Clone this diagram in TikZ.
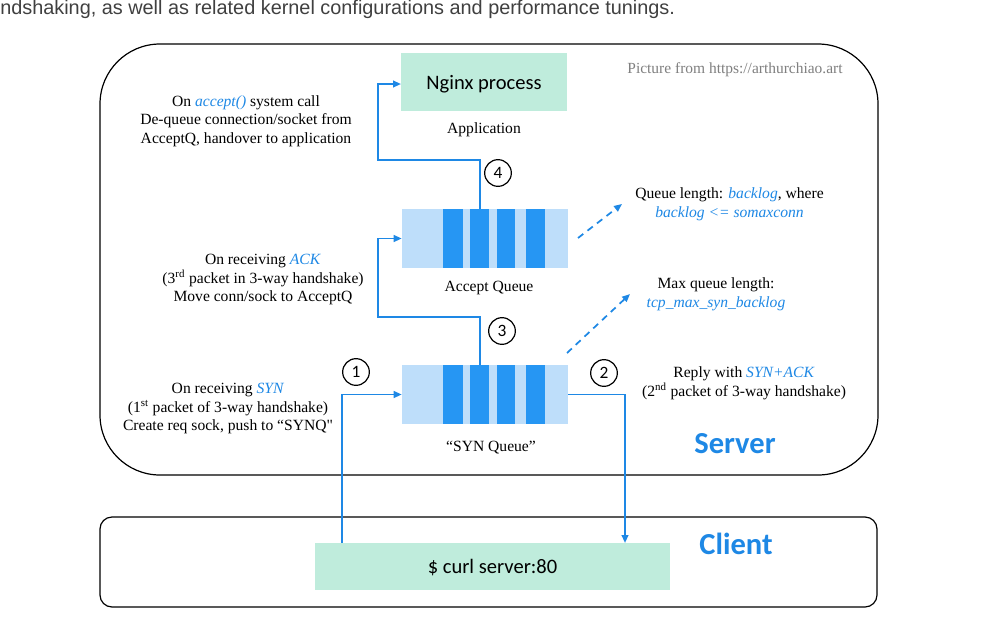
\documentclass[tikz,border=0pt]{standalone}
\usepackage{fontspec}
\setmainfont{Liberation Serif}
\newfontfamily\calfont{Carlito}
\newfontfamily\arialfont{Liberation Sans}
\usetikzlibrary{arrows.meta}
\definecolor{tblue}{RGB}{30,136,229}
\definecolor{barblue}{RGB}{38,150,243}
\definecolor{qblue}{RGB}{190,222,250}
\definecolor{mint}{RGB}{191,236,220}
\definecolor{topgrey}{RGB}{64,64,64}
\newcommand{\hl}[1]{\textcolor{tblue}{\textit{#1}}}
\begin{document}
\begin{tikzpicture}[x=0.75pt,y=-0.75pt,
  flow/.style={tblue,line width=1.4pt,-{Triangle[length=6pt,width=5pt]}},
  dflow/.style={tblue,line width=1.3pt,dash pattern=on 5pt off 4pt,-{Triangle[length=6pt,width=5pt]}},
  txt/.style={align=center,font=\fontsize{11.7}{13.9}\selectfont,inner sep=0pt},
  num/.style={circle,draw,line width=0.9pt,minimum size=20pt,inner sep=0pt,font=\calfont\fontsize{13}{13}\selectfont},
  queue/.style={fill=qblue,minimum width=124.5pt,minimum height=44.25pt,inner sep=0pt},
  appbox/.style={fill=mint,inner sep=0pt,font=\calfont\fontsize{15.4}{16}\selectfont},
  bigtitle/.style={text=tblue,inner sep=0pt,font=\calfont\bfseries\fontsize{22.9}{24}\selectfont},
  frame/.style={draw,line width=0.9pt}
]
\useasboundingbox (0,0) rectangle (998,632);
\clip (0,0) rectangle (998,632);
\fill[white] (0,0) rectangle (998,632);

% top caption
\node[anchor=base west,inner sep=0pt,text=topgrey,font=\arialfont\fontsize{14.9}{16}\selectfont] (cap) at (0,14.5)
  {ndshaking, as well as related kernel configurations and performance tunings.};

% frames
\draw[frame,rounded corners=45pt] (100,44) rectangle (878,475);
\draw[frame,rounded corners=9pt] (100,517) rectangle (877,607);

% boxes
\fill[mint] (401,53) rectangle (567,111);
\node[inner sep=0pt,font=\calfont\fontsize{15.4}{16}\selectfont] (nginx) at (484,84) {Nginx process};
\coordinate (nginxw) at (401,84);
\fill[mint] (315,543) rectangle (670,590);
\node[inner sep=0pt,font=\calfont\fontsize{15.4}{16}\selectfont] (curl) at (492.5,568) {\$ curl server:80};
\coordinate (curltopA) at (342,543);
\coordinate (curltopB) at (625,543);
\node[queue] (aq) at (485,238.5) {};
\node[queue] (sq) at (485,394.5) {};
\foreach \a/\b in {443/463,470/489,497/515,526/545}{
  \fill[barblue] (aq.north -| \a,0) rectangle (aq.south -| \b,0);
  \fill[barblue] (sq.north -| \a,0) rectangle (sq.south -| \b,0);
}

% labels
\node[txt] (applbl) at (484,130) {Application};
\node[txt] (aqlbl) at (489,288) {Accept Queue};
\node[txt] (sqlbl) at (491,448) {“SYN Queue”};
\node[txt,text=gray,font=\fontsize{11.6}{13}\selectfont] (src) at (735,70) {Picture from https://arthurchiao.art};

\node[txt] (t4) at (246,121) {On \hl{accept()} system call\\De-queue connection/socket from\\AcceptQ, handover to application};
\node[txt] (t3) at (263,279.5) {On receiving \hl{ACK}\\(3\textsuperscript{rd} packet in 3-way handshake)\\Move conn/sock to AcceptQ};
\node[txt] (t1) at (228,408.5) {On receiving \hl{SYN}\\(1\textsuperscript{st} packet of 3-way handshake)\\Create req sock, push to “SYNQ\textquotedbl};
\node[txt] (t2) at (744,383) {Reply with \hl{SYN+ACK}\\(2\textsuperscript{nd} packet of 3-way handshake)};
\node[txt] (tbl) at (729.5,204) {Queue length: \hl{backlog}, where\\\hl{backlog <= somaxconn}};
\node[txt] (tsyn) at (716,294) {Max queue length:\\\hl{tcp\_max\_syn\_backlog}};

\node[bigtitle] (server) at (735,444) {Server};
\node[bigtitle] (client) at (736,544) {Client};

% numbered circles
\node[num] (n4) at (498,173) {4};
\node[num] (n3) at (502,331) {3};
\node[num] (n1) at (356,372) {1};
\node[num] (n2) at (604,373) {2};

% flows
\draw[flow] (curltopA) |- (sq.west);
\draw[flow] (sq.east) -| (curltopB);
\draw[flow] (sq.north -| 480,0) |- (378,317) |- (aq.west);
\draw[flow] (aq.north -| 480,0) |- (378,160) |- (nginxw);

% dashed arrows
\coordinate (d1s) at (578,238);
\coordinate (d1e) at (622,204);
\coordinate (d2s) at (567,353);
\coordinate (d2e) at (630,294);
\draw[dflow] (d1s) -- (d1e);
\draw[dflow] (d2s) -- (d2e);
\end{tikzpicture}
\end{document}
